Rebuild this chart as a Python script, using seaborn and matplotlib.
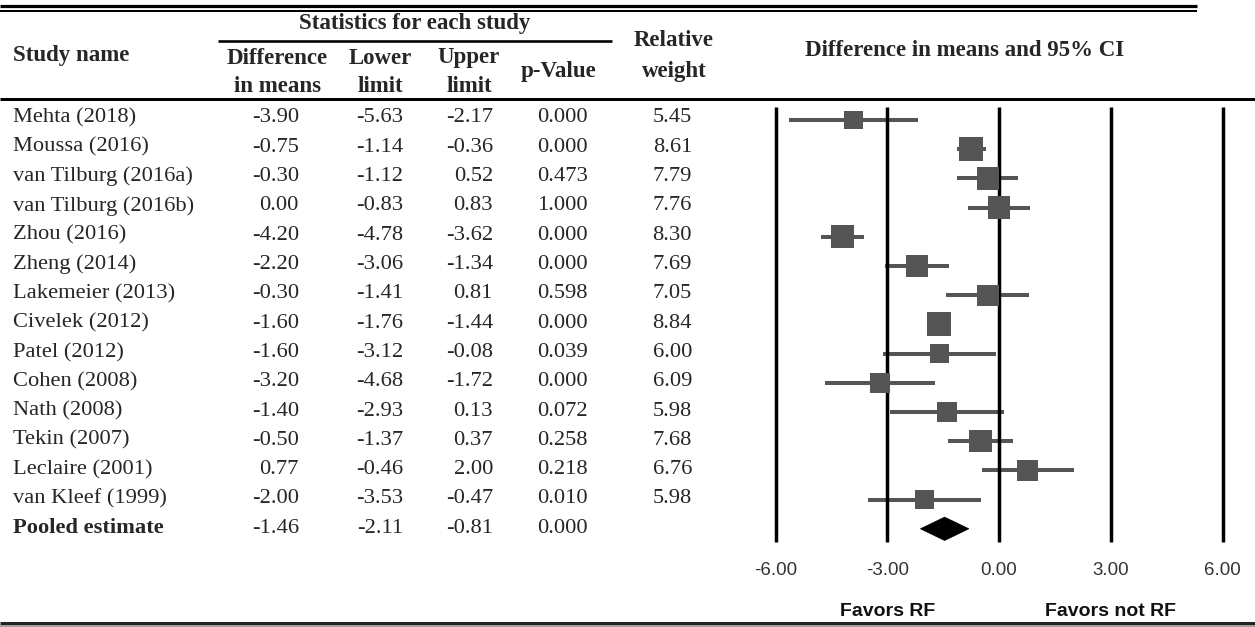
import numpy as np
import pandas as pd
import matplotlib
matplotlib.use("Agg")
import matplotlib.pyplot as plt
import matplotlib.transforms as mtransforms
from matplotlib.lines import Line2D
from matplotlib.patches import Polygon
import seaborn as sns

# ---------------- data ----------------
studies = ["Mehta (2018)", "Moussa (2016)", "van Tilburg (2016a)", "van Tilburg (2016b)",
           "Zhou (2016)", "Zheng (2014)", "Lakemeier (2013)", "Civelek (2012)",
           "Patel (2012)", "Cohen (2008)", "Nath (2008)", "Tekin (2007)",
           "Leclaire (2001)", "van Kleef (1999)"]
diff = [-3.90, -0.75, -0.30, 0.00, -4.20, -2.20, -0.30, -1.60, -1.60, -3.20, -1.40, -0.50, 0.77, -2.00]
lower = [-5.63, -1.14, -1.12, -0.83, -4.78, -3.06, -1.41, -1.76, -3.12, -4.68, -2.93, -1.37, -0.46, -3.53]
upper = [-2.17, -0.36, 0.52, 0.83, -3.62, -1.34, 0.81, -1.44, -0.08, -1.72, 0.13, 0.37, 2.00, -0.47]
pvalue = [0.000, 0.000, 0.473, 1.000, 0.000, 0.000, 0.598, 0.000, 0.039, 0.000, 0.072, 0.258, 0.218, 0.010]
weight = [5.45, 8.61, 7.79, 7.76, 8.30, 7.69, 7.05, 8.84, 6.00, 6.09, 5.98, 7.68, 6.76, 5.98]

pooled_label = "Pooled estimate"
pooled_diff = -1.46
pooled_lower = -2.11
pooled_upper = -0.81
pooled_p = 0.000

axis_ticks = [-6, -3, 0, 3, 6]
favors_left = "Favors RF"
favors_right = "Favors not RF"
favors_pos = [-3, 3]

# ---------------- setup ----------------
sns.set_style("white")
plt.rcParams["font.family"] = ["Liberation Serif", "DejaVu Serif"]

W, H = 1255, 627
fig = plt.figure(figsize=(W / 100, H / 100), dpi=100)


def fx(px):
    return px / W


def fy(py):
    return 1 - py / H


def hline(x0, x1, y, lw_px, color="black"):
    fig.add_artist(Line2D([fx(x0), fx(x1)], [fy(y), fy(y)], lw=lw_px * 0.72,
                          color=color, solid_capstyle="butt"))


SERIF = ["Liberation Serif", "DejaVu Serif"]
SANS = ["Liberation Sans", "DejaVu Sans"]
BODY = 16.2
HEAD = 16.5
mark_color = "#555555"

# ---------------- rules ----------------
hline(0, 1197, 6, 3.2)
hline(0, 1197, 11, 2.0)
hline(218, 612, 41, 2.6)
hline(0, 1255, 99, 3.0)
hline(0, 1255, 622.5, 3.0, "#222222")
hline(0, 1255, 626.2, 1.6, "#8a8a8a")

# ---------------- headers ----------------
head_kw = dict(fontsize=HEAD, fontweight="bold", family=SERIF, va="center")
fig.text(fx(13), fy(55), "Study name", ha="left", **head_kw)
fig.text(fx(415), fy(23), "Statistics for each study", ha="center", **head_kw)
for label, xc in [("Difference\nin means", 277), ("Lower\nlimit", 380), ("Upper\nlimit", 469)]:
    top, bot = label.split("\n")
    fig.text(fx(xc), fy(58), top, ha="center", **head_kw)
    fig.text(fx(xc), fy(87), bot, ha="center", **head_kw)
fig.text(fx(559), fy(72), "p-Value", ha="center", **head_kw)
fig.text(fx(674), fy(40), "Relative", ha="center", **head_kw)
fig.text(fx(674), fy(72), "weight", ha="center", **head_kw)
fig.text(fx(965), fy(50), "Difference in means and 95% CI", ha="center", **head_kw)

# ---------------- table body ----------------
n = len(studies)
rows = list(range(n))
pooled_row = n


def text_y(i):
    return 118.0 + 29.3 * i


col_right = [299, 403, 493, 588, 692]
for i in rows:
    y = fy(text_y(i))
    fig.text(fx(13), y, studies[i], ha="left", va="center", fontsize=BODY, family=SERIF)
    vals = [f"{diff[i]:.2f}", f"{lower[i]:.2f}", f"{upper[i]:.2f}", f"{pvalue[i]:.3f}", f"{weight[i]:.2f}"]
    for v, xr in zip(vals, col_right):
        fig.text(fx(xr), y, v, ha="right", va="center", fontsize=BODY, family=SERIF)

y = fy(text_y(pooled_row))
fig.text(fx(13), y, pooled_label, ha="left", va="center", fontsize=BODY, family=SERIF, fontweight="bold")
for v, xr in zip([f"{pooled_diff:.2f}", f"{pooled_lower:.2f}", f"{pooled_upper:.2f}", f"{pooled_p:.3f}"], col_right):
    fig.text(fx(xr), y, v, ha="right", va="center", fontsize=BODY, family=SERIF)

# ---------------- forest plot ----------------
px_per_unit = 37.25
zero_px = 999
row0_px = 120.0
row_px = 29.2
ax_top, ax_bot = 100, 545
ax = fig.add_axes([fx(760), fy(ax_bot), fx(1255) - fx(760), (ax_bot - ax_top) / H])
ax.set_xlim((760 - zero_px) / px_per_unit, (1255 - zero_px) / px_per_unit)
ax.set_ylim((ax_bot - row0_px) / row_px, (ax_top - row0_px) / row_px)
ax.patch.set_alpha(0)

df = pd.DataFrame({"study": studies, "diff": diff, "lower": lower, "upper": upper,
                   "weight": weight, "row": rows})

# CI lines
ax.hlines(df["row"], df["lower"], df["upper"], color=mark_color, lw=2.9, zorder=1)
# reference lines
ax.vlines(axis_ticks, (107 - row0_px) / row_px, (542 - row0_px) / row_px,
          color="black", lw=2.5, zorder=2)
# squares
sns.scatterplot(data=df, x="diff", y="row", size="weight", sizes=(185, 295),
                marker="s", color=mark_color, linewidth=0, legend=False, ax=ax, zorder=3)
# pooled diamond
hh = 0.4
ax.add_patch(Polygon([(pooled_lower, pooled_row), (pooled_diff, pooled_row - hh),
                      (pooled_upper, pooled_row), (pooled_diff, pooled_row + hh)],
                     closed=True, facecolor="black", edgecolor="black", lw=0.5, zorder=4))

ax.set_xlabel("")
ax.set_ylabel("")
ax.set_yticks([])
ax.set_xticks(axis_ticks)
ax.set_xticklabels([f"{t:.2f}" for t in axis_ticks])
ax.tick_params(axis="x", length=0, pad=12, labelsize=13.5, labelcolor="#333333")
for lbl in ax.get_xticklabels():
    lbl.set_fontfamily(SANS)
for s in ax.spines.values():
    s.set_visible(False)

trans = mtransforms.blended_transform_factory(ax.transData, fig.transFigure)
for lab, xp in zip([favors_left, favors_right], favors_pos):
    fig.text(xp, fy(612), lab, transform=trans, ha="center", va="center",
             fontsize=14, fontweight="bold", family=SANS, color="#111111")

fig.savefig("out.png", dpi=100)
